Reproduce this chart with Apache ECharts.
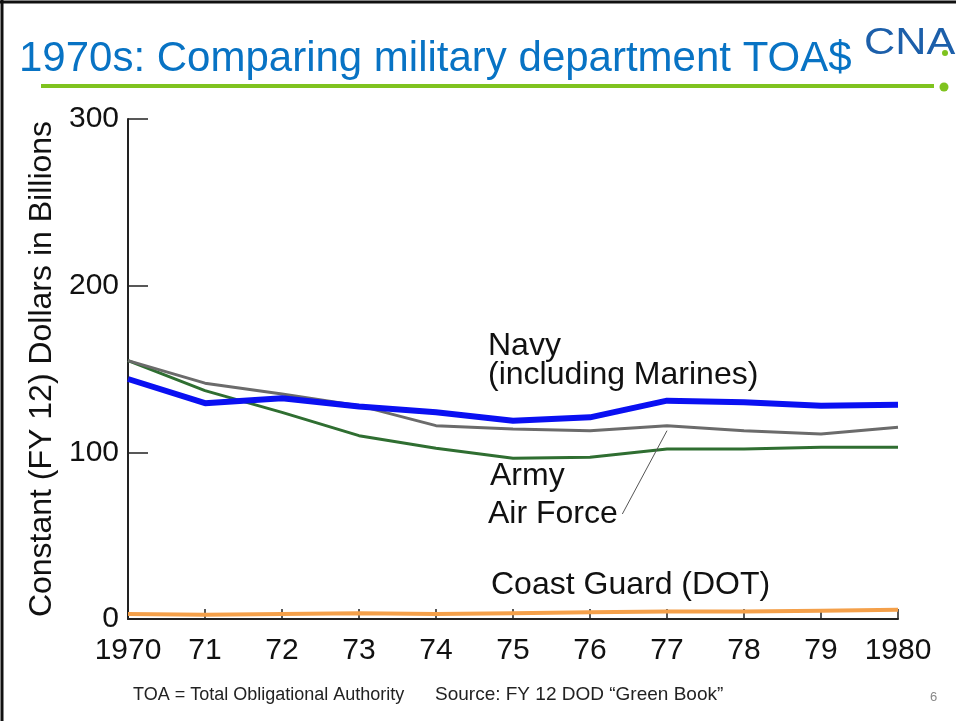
<!DOCTYPE html>
<html>
<head>
<meta charset="utf-8">
<title>1970s: Comparing military department TOA$</title>
<script src="https://cdn.jsdelivr.net/npm/echarts@6/dist/echarts.min.js"></script>
<style>
  html, body { margin: 0; padding: 0; background: #fff; }
  #chart { width: 956px; height: 721px; }
</style>
</head>
<body>
<div id="chart"></div>
<script>
// values, constant FY12 $ billions
const years = [1970, 1971, 1972, 1973, 1974, 1975, 1976, 1977, 1978, 1979, 1980];
const navy = [144, 129.5, 132.5, 127.5, 124, 119, 121, 131, 130, 128, 128.5];
const airForce = [155, 141.5, 135, 128, 116, 114, 113, 116, 113, 111, 115];
const army = [155, 137, 124, 110, 102.5, 96.5, 97, 102, 102, 103, 103];
const coastGuard = [3, 2.5, 3, 3.5, 3, 3.5, 4, 4.5, 4.5, 5, 5.5];
const yTicks = [0, 100, 200, 300];

const font = "'Liberation Sans', Arial, sans-serif";
const pairs = (vals) => years.map((y, i) => [y, vals[i]]);

const chart = echarts.init(document.getElementById("chart"));

const option = {
  animation: false,
  backgroundColor: "#fff",
  grid: { left: 128, right: 58, top: 119, bottom: 102 },
  xAxis: {
    type: "value",
    min: years[0],
    max: years[years.length - 1],
    interval: 1,
    axisLine: { lineStyle: { color: "#222", width: 2 } },
    axisTick: { inside: true, length: 10, lineStyle: { color: "#222", width: 1.5 } },
    axisLabel: {
      margin: 17,
      color: "#111",
      fontFamily: font,
      fontSize: 30,
      formatter: (v) => (v === years[0] || v === years[years.length - 1] ? String(v) : String(v).slice(2)),
    },
    splitLine: { show: false },
  },
  yAxis: {
    type: "value",
    min: yTicks[0],
    max: yTicks[yTicks.length - 1],
    interval: 100,
    name: "Constant (FY 12) Dollars in Billions",
    nameLocation: "middle",
    nameGap: 63,
    nameTextStyle: { color: "#111", fontFamily: font, fontSize: 32 },
    axisLine: { show: true, lineStyle: { color: "#222", width: 2 } },
    axisTick: { show: true, inside: true, length: 20, lineStyle: { color: "#222", width: 1.5 } },
    axisLabel: { margin: 9, color: "#111", fontFamily: font, fontSize: 30 },
    splitLine: { show: false },
  },
  series: [
    {
      name: "Coast Guard (DOT)",
      type: "line",
      data: pairs(coastGuard),
      showSymbol: false,
      lineStyle: { color: "#f4a04a", width: 4 },
      z: 3,
    },
    {
      name: "Army",
      type: "line",
      data: pairs(army),
      showSymbol: false,
      lineStyle: { color: "#2f6e31", width: 3 },
      z: 3,
    },
    {
      name: "Air Force",
      type: "line",
      data: pairs(airForce),
      showSymbol: false,
      lineStyle: { color: "#6b6b6b", width: 3 },
      z: 3,
      markLine: {
        silent: true,
        symbol: "none",
        label: { show: false },
        lineStyle: { color: "#555", width: 1, type: "solid" },
        data: [[{ coord: [1977, 113] }, { coord: [1976.42, 63] }]],
      },
    },
    {
      name: "Navy (including Marines)",
      type: "line",
      data: pairs(navy),
      showSymbol: false,
      lineStyle: { color: "#0a10f2", width: 6 },
      z: 4,
    },
  ],
  graphic: [
    // slide frame
    { type: "line", shape: { x1: 0, y1: 2, x2: 956, y2: 2 }, style: { stroke: "#111", lineWidth: 3 } },
    { type: "line", shape: { x1: 2, y1: 0, x2: 2, y2: 721 }, style: { stroke: "#111", lineWidth: 3 } },
    // title
    { type: "line", shape: { x1: 41, y1: 86, x2: 934, y2: 86 }, style: { stroke: "#7fc31f", lineWidth: 4 } },
    { type: "circle", shape: { cx: 944, cy: 87, r: 4.5 }, style: { fill: "#7fc31f" } },
    {
      type: "text", left: 19, top: 38,
      style: { text: "1970s: Comparing military department TOA$", fill: "#0873c4", font: "42px " + font },
    },
    // logo, cut off at the right edge like the slide
    {
      type: "text", x: 864, y: 26, scaleX: 1.2,
      style: { text: "CNA", fill: "#1c5faa", font: "36px " + font },
    },
    { type: "circle", shape: { cx: 945, cy: 53, r: 3 }, style: { fill: "#7fc31f" } },
    // series labels
    { type: "text", x: 488, y: 346, style: { text: "Navy", fill: "#111", font: "32px " + font, verticalAlign: "middle" } },
    { type: "text", x: 488, y: 375, style: { text: "(including Marines)", fill: "#111", font: "32px " + font, verticalAlign: "middle" } },
    { type: "text", x: 490, y: 476, style: { text: "Army", fill: "#111", font: "32px " + font, verticalAlign: "middle" } },
    { type: "text", x: 488, y: 514, style: { text: "Air Force", fill: "#111", font: "32px " + font, verticalAlign: "middle" } },
    { type: "text", x: 491, y: 585, style: { text: "Coast Guard (DOT)", fill: "#111", font: "32px " + font, verticalAlign: "middle" } },
    // footnote
    { type: "text", x: 133, y: 695, style: { text: "TOA = Total Obligational Authority", fill: "#222", font: "18px " + font, verticalAlign: "middle" } },
    {
      type: "text", x: 435, y: 695,
      style: { text: "Source: FY 12 DOD \u201cGreen Book\u201d", fill: "#222", font: "19px " + font, verticalAlign: "middle" },
    },
    { type: "text", x: 930, y: 697, style: { text: "6", fill: "#888", font: "13px " + font, verticalAlign: "middle" } },
  ],
};

chart.setOption(option);
</script>
</body>
</html>
